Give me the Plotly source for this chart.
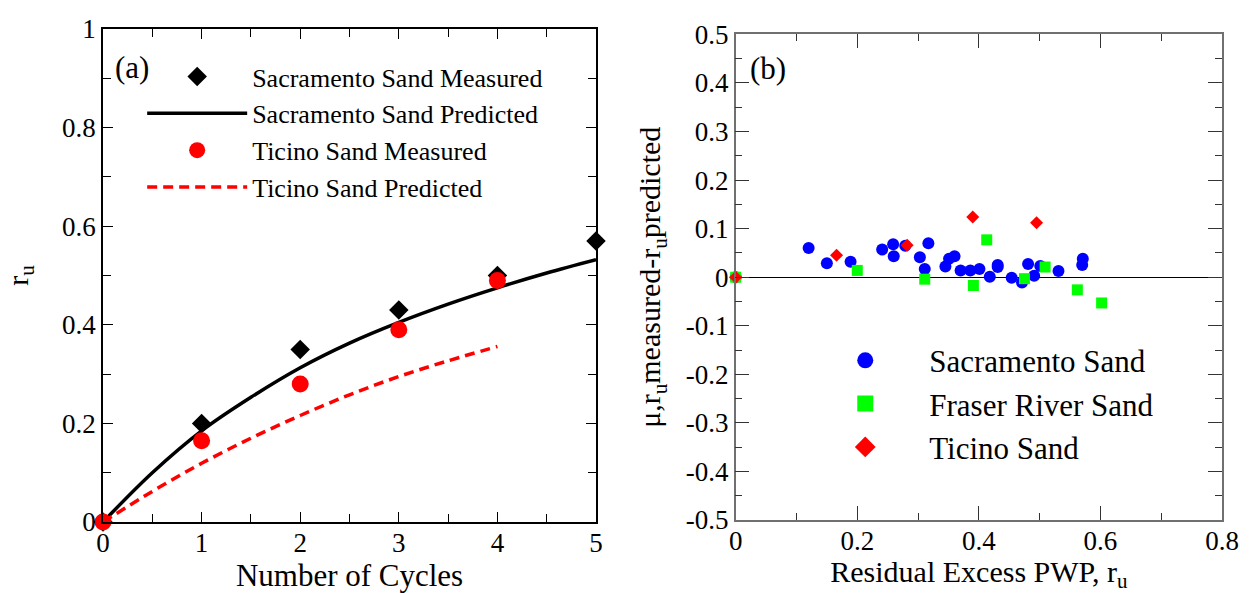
import plotly.graph_objects as go

# ---------------- Panel (a) data ----------------
cycles_meas_sac = [0, 1, 2, 3, 4, 5]
ru_meas_sac = [0, 0.20, 0.35, 0.43, 0.50, 0.57]
cycles_meas_tic = [0, 1, 2, 3, 4]
ru_meas_tic = [0, 0.165, 0.28, 0.39, 0.49]
cycles_pred_sac = [0, 0.5, 1, 1.5, 2, 2.5, 3, 3.5, 4, 4.5, 5]
ru_pred_sac = [0, 0.100, 0.185, 0.253, 0.313, 0.363, 0.405, 0.442, 0.475, 0.505, 0.532]
cycles_pred_tic = [0, 0.5, 1, 1.5, 2, 2.5, 3, 3.5, 4]
ru_pred_tic = [0, 0.062, 0.119, 0.170, 0.216, 0.258, 0.295, 0.327, 0.356]

# ---------------- Panel (b) data ----------------
sac_ru = [0, 0.120, 0.150, 0.189, 0.241, 0.259, 0.260, 0.279, 0.303, 0.311, 0.317,
          0.345, 0.351, 0.360, 0.370, 0.386, 0.401, 0.418, 0.431, 0.431, 0.454,
          0.471, 0.481, 0.491, 0.501, 0.531, 0.571, 0.570]
sac_mu = [0, 0.060, 0.029, 0.032, 0.057, 0.068, 0.043, 0.065, 0.041, 0.017, 0.070,
          0.022, 0.038, 0.043, 0.014, 0.014, 0.017, 0.001, 0.025, 0.021, -0.001,
          -0.011, 0.027, 0.003, 0.023, 0.013, 0.038, 0.025]
fra_ru = [0, 0.200, 0.311, 0.391, 0.413, 0.475, 0.509, 0.562, 0.602]
fra_mu = [0, 0.014, -0.004, -0.017, 0.077, -0.003, 0.021, -0.026, -0.053]
tic_ru = [0, 0.166, 0.282, 0.390, 0.495]
tic_mu = [0, 0.045, 0.066, 0.124, 0.112]

# tick labels
a_x_ticks = [0, 1, 2, 3, 4, 5]
a_y_ticks = [0, 0.2, 0.4, 0.6, 0.8, 1]
a_y_text = ["0", "0.2", "0.4", "0.6", "0.8", "1"]
b_x_ticks = [0, 0.2, 0.4, 0.6, 0.8]
b_x_text = ["0", "0.2", "0.4", "0.6", "0.8"]
b_y_ticks = [-0.5, -0.4, -0.3, -0.2, -0.1, 0, 0.1, 0.2, 0.3, 0.4, 0.5]
b_y_text = ["-0.5", "-0.4", "-0.3", "-0.2", "-0.1", "0", "0.1", "0.2", "0.3", "0.4", "0.5"]

FONT = "Liberation Serif"

fig = go.Figure()

# ---- Panel (a) traces ----
fig.add_trace(go.Scatter(x=cycles_pred_sac, y=ru_pred_sac, mode="lines",
                         name="Sacramento Sand Predicted", line_shape="spline",
                         line=dict(color="black", width=3.5),
                         xaxis="x", yaxis="y", cliponaxis=False,
                         legend="legend", legendgroup="a2", legendrank=2))
fig.add_trace(go.Scatter(x=cycles_pred_tic, y=ru_pred_tic, mode="lines",
                         name="Ticino Sand Predicted", line_shape="spline",
                         line=dict(color="#ff0000", width=3.5, dash="10px,6px"),
                         xaxis="x", yaxis="y", cliponaxis=False,
                         legend="legend", legendgroup="a4", legendrank=4))
fig.add_trace(go.Scatter(x=cycles_meas_sac, y=ru_meas_sac, mode="markers",
                         name="Sacramento Sand Measured",
                         marker=dict(symbol="diamond", size=15, color="black"),
                         xaxis="x", yaxis="y", cliponaxis=False,
                         legend="legend", legendgroup="a1", legendrank=1))
fig.add_trace(go.Scatter(x=cycles_meas_tic, y=ru_meas_tic, mode="markers",
                         name="Ticino Sand Measured",
                         marker=dict(symbol="circle", size=17, color="#ff0000"),
                         xaxis="x", yaxis="y", cliponaxis=False,
                         legend="legend", legendgroup="a3", legendrank=3))

# ---- Panel (b) traces ----
b_series = [
    ("Sacramento Sand", sac_ru, sac_mu, "circle", 12, "#0000ff", 1),
    ("Fraser River Sand", fra_ru, fra_mu, "square", 11, "#00ff00", 2),
    ("Ticino Sand", tic_ru, tic_mu, "diamond", 10, "#ff0000", 3),
]
for name, xs, ys, sym, sz, col, rk in b_series:
    fig.add_trace(go.Scatter(x=xs, y=ys, mode="markers", name=name,
                             marker=dict(symbol=sym, size=sz, color=col),
                             xaxis="x2", yaxis="y2", cliponaxis=False,
                             showlegend=False, legendgroup="b%d" % rk))
    # legend entry with a larger symbol (no data of its own)
    fig.add_trace(go.Scatter(x=[None], y=[None], mode="markers", name=name,
                             marker=dict(symbol=sym, size=20, color=col),
                             xaxis="x2", yaxis="y2",
                             legend="legend2", legendgroup="b%d" % rk, legendrank=rk))

tickfont = dict(family=FONT, size=27, color="black")
titlefont = dict(family=FONT, size=30, color="black")

common_a = dict(showgrid=False, zeroline=False, showline=True, linecolor="black",
                linewidth=1.5, mirror="ticks", ticks="inside", ticklen=10,
                tickwidth=1.2, tickcolor="black", tickfont=tickfont, automargin=False)
common_b = dict(showgrid=False, showline=True, linecolor="#707070",
                linewidth=1.5, mirror="ticks", ticks="inside", ticklen=14,
                tickwidth=1.2, tickcolor="#333333", tickfont=tickfont, automargin=False)

fig.update_layout(
    width=1250, height=593, autosize=False,
    margin=dict(l=103, r=28, t=29, b=71, autoexpand=False),
    paper_bgcolor="white", plot_bgcolor="white",
    font=dict(family=FONT, color="black"),
    xaxis=dict(domain=[0, 0.4406], range=[0, 5], tickvals=a_x_ticks, ticklabelstandoff=-4,
               minor=dict(dtick=0.5, ticks="inside", ticklen=8, tickcolor="black"),
               title=dict(text="Number of Cycles", font=dict(family=FONT, size=31, color="black"),
                          standoff=4),
               anchor="y", **common_a),
    yaxis=dict(domain=[0, 1], range=[0, 1], tickvals=a_y_ticks, ticktext=a_y_text,
               minor=dict(dtick=0.1, ticks="inside", ticklen=8, tickcolor="black"),
               title=dict(text="r<sub>u</sub>", font=titlefont, standoff=25),
               anchor="x", **common_a),
    xaxis2=dict(domain=[0.5654, 1], range=[0, 0.8], tickvals=b_x_ticks, ticktext=b_x_text,
                zeroline=False, ticklabelstandoff=-4,
                minor=dict(dtick=0.1, ticks="inside", ticklen=7, tickcolor="#333333"),
                title=dict(text="Residual Excess PWP, r<sub>u</sub>", font=titlefont, standoff=4),
                anchor="y2", **common_b),
    yaxis2=dict(domain=[0.004, 0.989], range=[-0.5, 0.5], tickvals=b_y_ticks, ticktext=b_y_text,
                zeroline=True, zerolinecolor="black", zerolinewidth=1.2,
                minor=dict(dtick=0.05, ticks="inside", ticklen=7, tickcolor="#333333"),
                title=dict(text="μ,r<sub>u</sub>measured-r<sub>u</sub>predicted",
                           font=titlefont, standoff=16),
                anchor="x2", **common_b),
    legend=dict(x=0.035, y=0.951, xanchor="left", yanchor="top",
                bgcolor="rgba(0,0,0,0)", borderwidth=0, itemwidth=100,
                tracegroupgap=10, font=dict(family=FONT, size=26, color="black"),
                traceorder="normal"),
    legend2=dict(x=0.624, y=0.382, xanchor="left", yanchor="top",
                 bgcolor="rgba(0,0,0,0)", borderwidth=0, itemwidth=118,
                 tracegroupgap=0, font=dict(family=FONT, size=31, color="black"),
                 traceorder="normal"),
    showlegend=True,
    annotations=[
        dict(text="(a)", xref="x domain", yref="y domain", x=0.02, y=0.921,
             xanchor="left", yanchor="middle", showarrow=False,
             font=dict(family=FONT, size=31, color="black")),
        dict(text="(b)", xref="x2 domain", yref="y2 domain", x=0.025, y=0.93,
             xanchor="left", yanchor="middle", showarrow=False,
             font=dict(family=FONT, size=31, color="black")),
    ],
)

fig.write_html("out.html")
